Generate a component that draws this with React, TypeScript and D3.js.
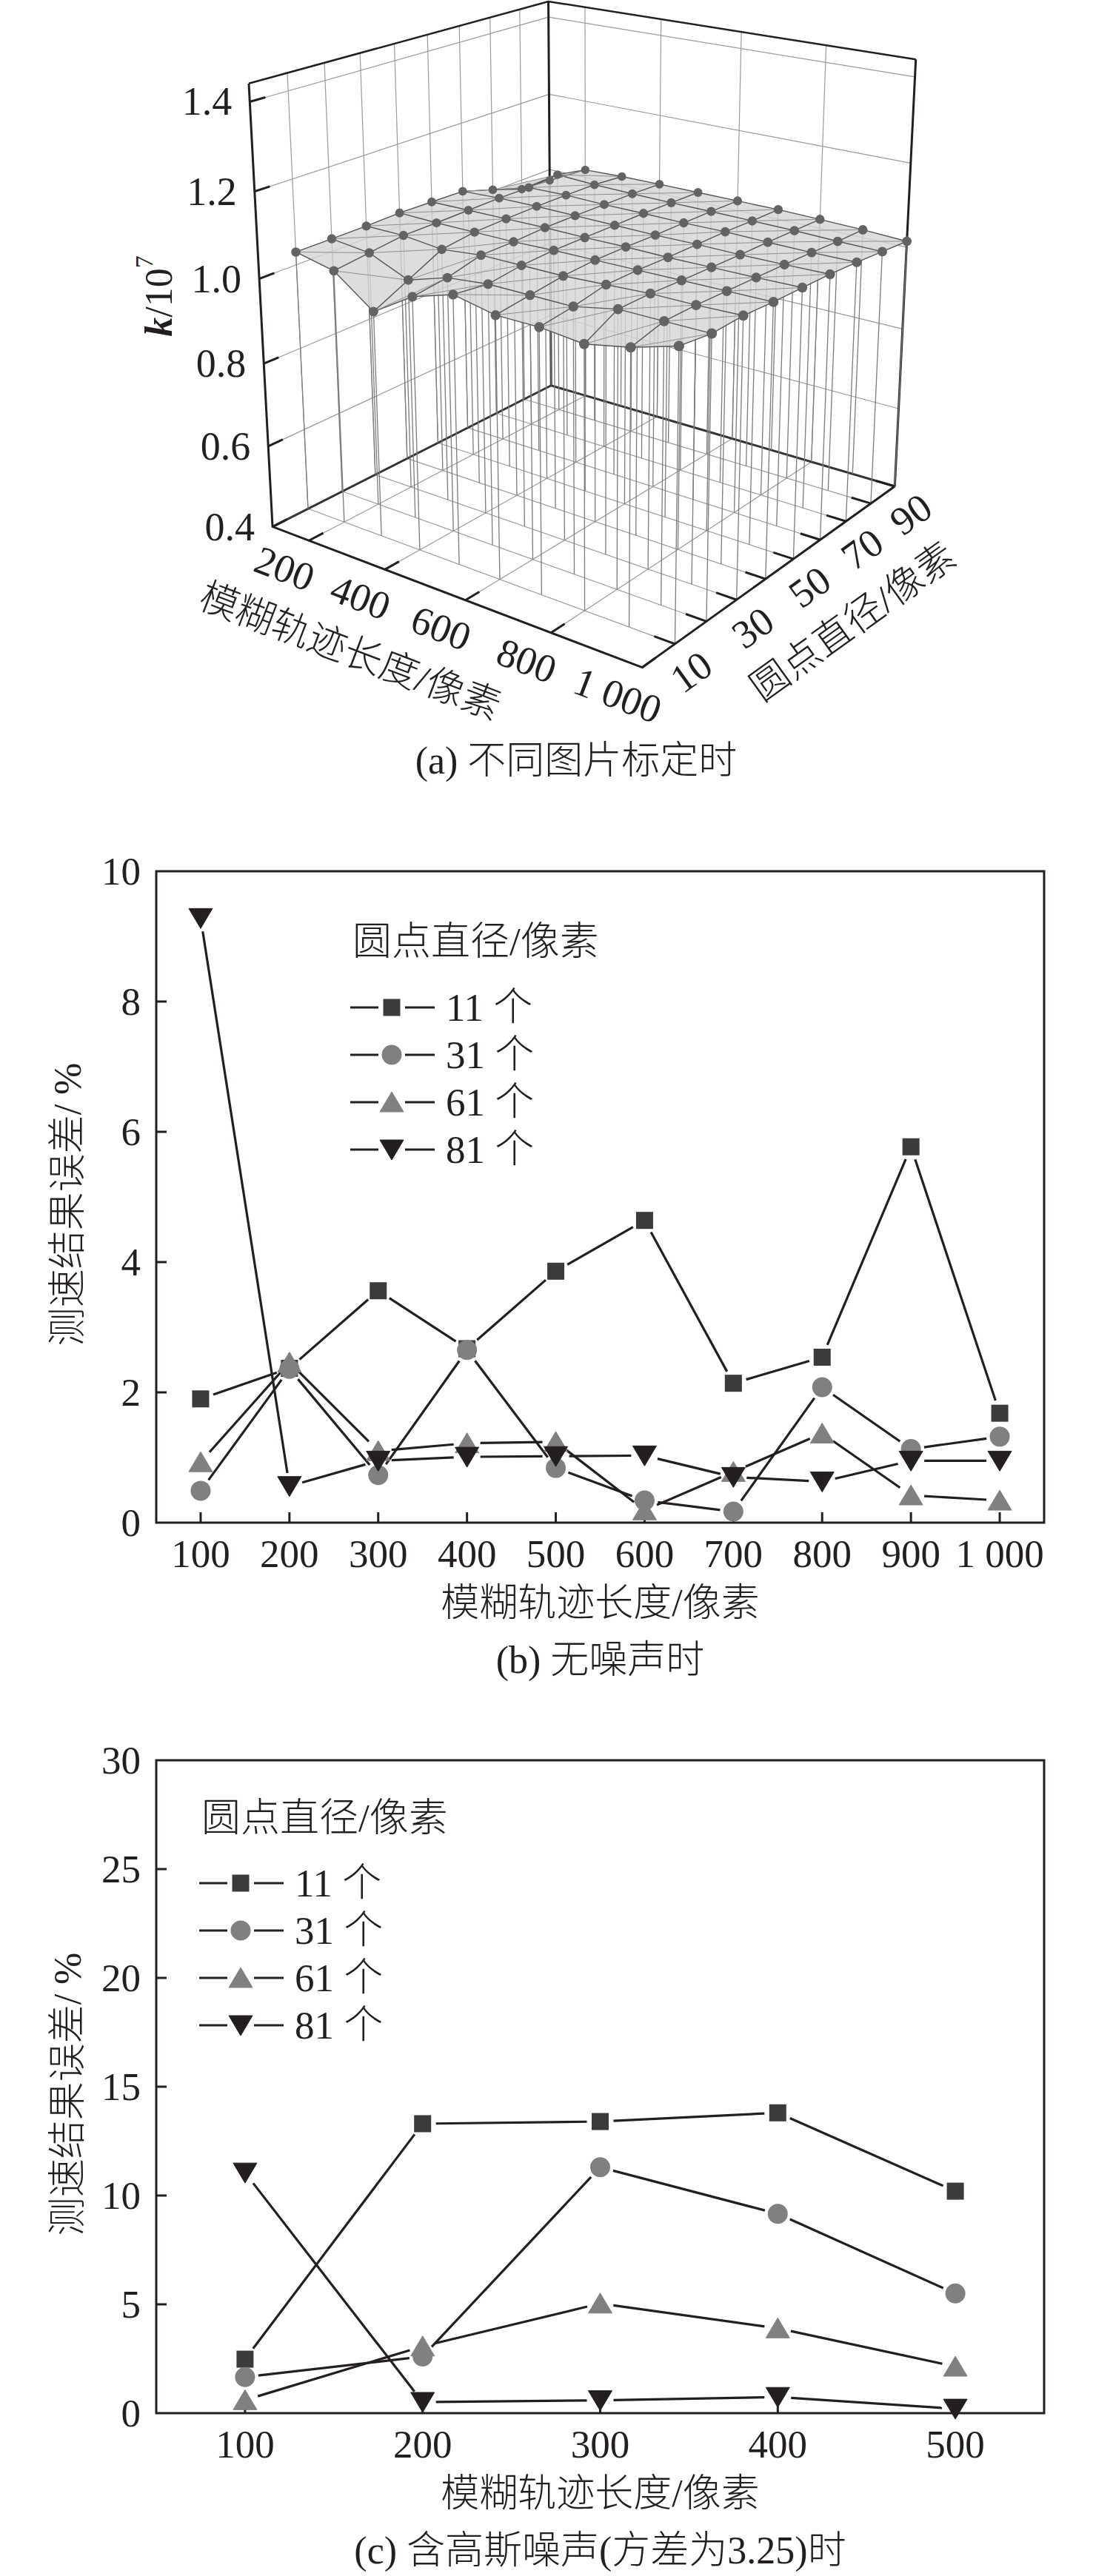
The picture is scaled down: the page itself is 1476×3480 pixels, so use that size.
import React from 'react';
import * as d3 from 'd3';

// ---------- data ----------
// (a) surface: k/10^7 for each dot diameter (rows) and blur length (columns)
const blurLengths = [100, 200, 300, 400, 500, 600, 700, 800, 900, 1000];
const dotDiameters = [10, 20, 30, 40, 50, 60, 70, 80, 90];
const kD10 = [1.03, 1.01, 0.94, 1.0, 1.03, 1.01, 1.01, 1.0, 1.02, 1.05];
const kD20 = [1.03, 1.02, 0.98, 1.01, 1.02, 1.02, 1.02, 1.04, 1.04, 1.04];
const kD30 = [1.03, 1.03, 1.02, 1.03, 1.03, 1.03, 1.035, 1.04, 1.04, 1.043];
const kD40 = [1.032, 1.03, 1.03, 1.03, 1.033, 1.034, 1.035, 1.036, 1.037, 1.038];
const kD50 = [1.03, 1.031, 1.032, 1.033, 1.032, 1.033, 1.032, 1.033, 1.034, 1.036];
const kD60 = [1.028, 1.032, 1.033, 1.032, 1.031, 1.03, 1.031, 1.03, 1.031, 1.033];
const kD70 = [1.003, 1.03, 1.032, 1.03, 1.03, 1.029, 1.03, 1.028, 1.027, 1.028];
const kD80 = [0.976, 1.035, 1.03, 1.028, 1.027, 1.027, 1.026, 1.025, 1.022, 1.021];
const kD90 = [0.971, 1.02, 1.023, 1.024, 1.024, 1.024, 1.024, 1.022, 1.019, 1.014];
const kRows = [kD10, kD20, kD30, kD40, kD50, kD60, kD70, kD80, kD90];

const kTicks = [0.4, 0.6, 0.8, 1.0, 1.2, 1.4];
const blurTicks = [200, 400, 600, 800, 1000];
const diamTicks = [10, 20, 30, 40, 50, 60, 70, 80, 90];
const diamLabels = [10, 30, 50, 70, 90];
const wallDiamGrid = [10, 20, 30, 40, 50, 60, 70, 80];
const wallBlurGrid = [200, 400, 600, 800];
const kGrid = [0.6, 0.8, 1.0, 1.2, 1.4];

// (b) no noise
const noNoiseX = [100, 200, 300, 400, 500, 600, 700, 800, 900, 1000];
const noNoise11 = [1.9, 2.37, 3.56, 2.67, 3.86, 4.64, 2.14, 2.54, 5.77, 1.68];
const noNoise31 = [0.49, 2.36, 0.73, 2.65, 0.84, 0.34, 0.17, 2.08, 1.13, 1.32];
const noNoise61 = [0.93, 2.46, 1.1, 1.22, 1.24, 0.19, 0.78, 1.37, 0.42, 0.34];
const noNoise81 = [9.28, 0.56, 0.95, 1.01, 1.02, 1.03, 0.7, 0.63, 0.95, 0.95];
const noNoiseYTicks = [0, 2, 4, 6, 8, 10];

// (c) gaussian noise
const gaussX = [100, 200, 300, 400, 500];
const gauss11 = [2.48, 13.3, 13.4, 13.8, 10.2];
const gauss31 = [1.66, 2.6, 11.3, 9.16, 5.5];
const gauss61 = [0.6, 3.07, 5.04, 3.9, 2.14];
const gauss81 = [11.05, 0.51, 0.59, 0.74, 0.2];
const gaussYTicks = [0, 5, 10, 15, 20, 25, 30];

const seriesNames = ['11 个', '31 个', '61 个', '81 个'];

// ---------- style ----------
const FONT = "'Liberation Serif', 'Times New Roman', 'Noto Sans CJK SC', serif";
const INK = '#231f20';
const markerFill = ['#3d3a3b', '#808080', '#808080', '#231f20'];
const markerShape = ['square', 'circle', 'up', 'down'];

type Shape = 'square' | 'circle' | 'up' | 'down';

function Marker({ x, y, shape, fill }: { x: number; y: number; shape: Shape; fill: string }) {
  if (shape === 'square') return <rect x={x - 11.5} y={y - 11.5} width={23} height={23} fill={fill} />;
  if (shape === 'circle') return <circle cx={x} cy={y} r={13.5} fill={fill} />;
  if (shape === 'up')
    return <path d={`M${x},${y - 14}L${x + 16},${y + 13}L${x - 16},${y + 13}Z`} fill={fill} strokeLinejoin="round" stroke={fill} strokeWidth={1} />;
  return <path d={`M${x},${y + 14}L${x + 16},${y - 13}L${x - 16},${y - 13}Z`} fill={fill} stroke={fill} strokeWidth={1} />;
}

// ---------- 3D projection (perspective camera fitted to the box corners) ----------
const boxCorners: [number, number, number, number, number][] = [
  [0, 0, 0, 370, 712],
  [1, 0, 0, 866, 902],
  [1, 1, 0, 1210, 656],
  [0, 1, 0, 742, 521],
  [0, 0, 1, 335, 112],
  [0, 1, 1, 742, 2],
  [1, 1, 1, 1236, 81],
];

function fitCamera(pts: [number, number, number, number, number][]) {
  const s = 1000;
  const rows: number[][] = [];
  const rhs: number[] = [];
  pts.forEach(([X, Y, Z, px, py]) => {
    const x = px / s, y = py / s;
    rows.push([X, Y, Z, 1, 0, 0, 0, 0, -x * X, -x * Y, -x * Z]); rhs.push(x);
    rows.push([0, 0, 0, 0, X, Y, Z, 1, -y * X, -y * Y, -y * Z]); rhs.push(y);
  });
  const n = 11;
  const M = d3.range(n).map(i => {
    const r = new Array(n + 1).fill(0);
    for (let j = 0; j < n; j++) r[j] = d3.sum(rows, row => row[i] * row[j]);
    r[n] = d3.sum(rows, (row, k) => row[i] * rhs[k]);
    return r;
  });
  for (let c = 0; c < n; c++) {
    let piv = c;
    for (let r = c + 1; r < n; r++) if (Math.abs(M[r][c]) > Math.abs(M[piv][c])) piv = r;
    [M[c], M[piv]] = [M[piv], M[c]];
    for (let r = 0; r < n; r++) {
      if (r === c) continue;
      const f = M[r][c] / M[c][c];
      for (let k = c; k <= n; k++) M[r][k] -= f * M[c][k];
    }
  }
  const p = M.map((r, i) => r[n] / r[i]);
  return (X: number, Y: number, Z: number): [number, number] => {
    const d = p[8] * X + p[9] * Y + p[10] * Z + 1;
    return [(s * (p[0] * X + p[1] * Y + p[2] * Z + p[3])) / d, (s * (p[4] * X + p[5] * Y + p[6] * Z + p[7])) / d];
  };
}

const cam = fitCamera(boxCorners);
const uScale = d3.scaleLinear().domain([100, 1000]).range([0, 1]);
const vScale = d3.scaleLinear().domain([0, 90]).range([0, 1]);
const wScale = d3.scaleLinear().domain([0.4, 1.44]).range([0, 1]);
const proj = (blur: number, diam: number, k: number) => cam(uScale(blur), vScale(diam), wScale(k));
const seg = (a: [number, number], b: [number, number]) => `M${a[0]},${a[1]}L${b[0]},${b[1]}`;

function SurfaceChart() {
  const bMin = blurLengths[0], bMax = blurLengths[blurLengths.length - 1];
  const dMin = 0, dMax = 90;
  const zMin = 0.4, zMax = 1.44;
  const A = proj(bMin, dMin, zMin), B = proj(bMax, dMin, zMin), C = proj(bMax, dMax, zMin), D = proj(bMin, dMax, zMin);
  const At = proj(bMin, dMin, zMax), Ct = proj(bMax, dMax, zMax), Dt = proj(bMin, dMax, zMax);
  const angAB = (Math.atan2(B[1] - A[1], B[0] - A[0]) * 180) / Math.PI;
  const angBC = (Math.atan2(C[1] - B[1], C[0] - B[0]) * 180) / Math.PI;
  const grid = '#9a9a9a';

  // surface triangles, far to near
  const tris: { pts: [number, number][]; key: number }[] = [];
  for (let i = 0; i < blurLengths.length - 1; i++) {
    for (let j = 0; j < dotDiameters.length - 1; j++) {
      const p = (ii: number, jj: number) => proj(blurLengths[ii], dotDiameters[jj], kRows[jj][ii]);
      const key = i - j;
      tris.push({ pts: [p(i, j), p(i + 1, j), p(i + 1, j + 1)], key: key + 0.5 });
      tris.push({ pts: [p(i, j), p(i + 1, j + 1), p(i, j + 1)], key: key - 0.5 });
    }
  }
  tris.sort((a, b) => a.key - b.key);
  const line = d3.line<[number, number]>();

  const pts3 = dotDiameters.flatMap((d, j) => blurLengths.map((b, i) => ({ b, d, k: kRows[j][i] })));
  // nearer points look a little bigger
  const dotR = (b: number, d: number) => 5.6 + 1.6 * (uScale(b) - vScale(d) + 1) / 2;

  return (
    <g>
      {/* back-left wall grid (blur = 100) */}
      {wallDiamGrid.map(d => (
        <path key={`wd${d}`} d={seg(proj(bMin, d, zMin), proj(bMin, d, zMax))} stroke={grid} strokeWidth={1.2} fill="none" />
      ))}
      {kGrid.map(k => (
        <path key={`wk${k}`} d={seg(proj(bMin, dMin, k), proj(bMin, dMax, k))} stroke={grid} strokeWidth={1.2} fill="none" />
      ))}
      {/* back-right wall grid (diameter = 90) */}
      {wallBlurGrid.map(b => (
        <path key={`wb${b}`} d={seg(proj(b, dMax, zMin), proj(b, dMax, zMax))} stroke={grid} strokeWidth={1.2} fill="none" />
      ))}
      {kGrid.map(k => (
        <path key={`wk2${k}`} d={seg(proj(bMin, dMax, k), proj(bMax, dMax, k))} stroke={grid} strokeWidth={1.2} fill="none" />
      ))}
      {/* floor grid */}
      {wallBlurGrid.map(b => (
        <path key={`fb${b}`} d={seg(proj(b, dMin, zMin), proj(b, dMax, zMin))} stroke={grid} strokeWidth={1.2} fill="none" />
      ))}
      {wallDiamGrid.map(d => (
        <path key={`fd${d}`} d={seg(proj(bMin, d, zMin), proj(bMax, d, zMin))} stroke={grid} strokeWidth={1.2} fill="none" />
      ))}
      {/* back edges of the box */}
      <path d={`M${A[0]},${A[1]}L${D[0]},${D[1]}L${C[0]},${C[1]}`} stroke="#333" strokeWidth={3} fill="none" />
      <path d={seg(D, Dt)} stroke={INK} strokeWidth={3} />
      <path d={seg(C, Ct)} stroke={INK} strokeWidth={3} />
      <path d={`M${At[0]},${At[1]}L${Dt[0]},${Dt[1]}L${Ct[0]},${Ct[1]}`} stroke={INK} strokeWidth={2.5} fill="none" />
      {/* drop lines */}
      {pts3.map((p, i) => (
        <path key={`dl${i}`} d={seg(proj(p.b, p.d, p.k), proj(p.b, p.d, zMin))} stroke="#7c7c7c" strokeWidth={1.3} />
      ))}
      {/* surface */}
      {tris.map((t, i) => (
        <path key={`t${i}`} d={line(t.pts) + 'Z'} fill="#d6d6d6" fillOpacity={0.82} stroke="#d6d6d6" strokeWidth={0.6} />
      ))}
      {/* mesh */}
      {dotDiameters.map((d, j) => (
        <path key={`mr${j}`} d={line(blurLengths.map((b, i) => proj(b, d, kRows[j][i]))) || ''} fill="none" stroke="#555" strokeWidth={1.4} />
      ))}
      {blurLengths.map((b, i) => (
        <path key={`mc${i}`} d={line(dotDiameters.map((d, j) => proj(b, d, kRows[j][i]))) || ''} fill="none" stroke="#555" strokeWidth={1.4} />
      ))}
      {blurLengths.slice(0, -1).map((b, i) =>
        dotDiameters.slice(0, -1).map((d, j) => (
          <path
            key={`md${i}-${j}`}
            d={seg(proj(b, d, kRows[j][i]), proj(blurLengths[i + 1], dotDiameters[j + 1], kRows[j + 1][i + 1]))}
            stroke="#8f8f8f"
            strokeWidth={1}
          />
        ))
      )}
      {pts3.map((p, i) => {
        const [x, y] = proj(p.b, p.d, p.k);
        return <circle key={`pt${i}`} cx={x} cy={y} r={dotR(p.b, p.d)} fill="#636363" />;
      })}
      {/* front axes */}
      <path d={`M${At[0]},${At[1]}L${A[0]},${A[1]}L${B[0]},${B[1]}L${C[0]},${C[1]}`} stroke={INK} strokeWidth={3} fill="none" strokeLinejoin="miter" />
      {kTicks.map(k => (
        <path key={`kt${k}`} d={seg(proj(bMin, dMin, k), proj(bMin, 4, k))} stroke={INK} strokeWidth={3} />
      ))}
      {blurTicks.map(b => (
        <path key={`bt${b}`} d={seg(proj(b, dMin, zMin), proj(b, 4, zMin))} stroke={INK} strokeWidth={3} />
      ))}
      {diamTicks.map(d => (
        <path key={`dt${d}`} d={seg(proj(bMax, d, zMin), proj(bMax - 45, d, zMin))} stroke={INK} strokeWidth={3} />
      ))}
      {/* tick labels */}
      {kTicks.map(k => {
        const [x, y] = proj(bMin, dMin, k);
        return (
          <text key={`kl${k}`} x={x - 24} y={y} textAnchor="end" dominantBaseline="central" fontSize={54} fontFamily={FONT} fill={INK}>
            {k.toFixed(1)}
          </text>
        );
      })}
      {blurTicks.map(b => {
        const [x, y] = proj(b, dMin, zMin);
        const lx = x - 33, ly = y + 38;
        return (
          <text key={`bl${b}`} x={lx} y={ly} transform={`rotate(${angAB},${lx},${ly})`} textAnchor="middle" dominantBaseline="central" fontSize={54} fontFamily={FONT} fill={INK}>
            {b === 1000 ? '1 000' : b}
          </text>
        );
      })}
      {diamLabels.map(d => {
        const [x, y] = proj(bMax, d, zMin);
        const lx = x + 22, ly = y + 38;
        return (
          <text key={`dlb${d}`} x={lx} y={ly} transform={`rotate(${angBC},${lx},${ly})`} textAnchor="middle" dominantBaseline="central" fontSize={54} fontFamily={FONT} fill={INK}>
            {d}
          </text>
        );
      })}
      {/* axis titles */}
      <text x={473} y={880} transform={`rotate(${angAB},473,880)`} textAnchor="middle" dominantBaseline="central" fontSize={52} fontFamily={FONT} fontWeight={300} fill={INK}>
        模糊轨迹长度/像素
      </text>
      <text x={1152} y={840} transform={`rotate(${angBC},1152,840)`} textAnchor="middle" dominantBaseline="central" fontSize={52} fontFamily={FONT} fontWeight={300} fill={INK}>
        圆点直径/像素
      </text>
      <text x={214} y={400} transform="rotate(-90,214,400)" textAnchor="middle" dominantBaseline="central" fontSize={52} fontFamily={FONT} fill={INK}>
        <tspan fontStyle="italic" fontWeight="bold">k</tspan>
        <tspan>/10</tspan>
        <tspan fontSize={34} dy={-20}>7</tspan>
      </text>
      <text x={778} y={1027} textAnchor="middle" dominantBaseline="central" fontSize={52} fontFamily={FONT} fontWeight={300} fill={INK}>
        (a) 不同图片标定时
      </text>
    </g>
  );
}

// ---------- 2D line charts ----------
interface LineChartProps {
  xs: number[];
  series: number[][];
  xDomain: [number, number];
  yDomain: [number, number];
  yTicks: number[];
  top: number;
  bottom: number;
  legendX: number;
  legendTitleY: number;
  legendFirstY: number;
  caption: string;
}

function LineChart({ xs, series, xDomain, yDomain, yTicks, top, bottom, legendX, legendTitleY, legendFirstY, caption }: LineChartProps) {
  const left = 211, right = 1410;
  const x = d3.scaleLinear().domain(xDomain).range([left, right]);
  const y = d3.scaleLinear().domain(yDomain).range([bottom, top]);
  const gap = 18;
  const midY = (top + bottom) / 2;
  return (
    <g>
      <rect x={left} y={top} width={right - left} height={bottom - top} fill="none" stroke={INK} strokeWidth={3} />
      {yTicks.map(t => (
        <g key={`yt${t}`}>
          {t !== yDomain[0] && t !== yDomain[1] && <path d={`M${left},${y(t)}h14`} stroke={INK} strokeWidth={3} />}
          <text x={left - 21} y={y(t)} textAnchor="end" dominantBaseline="central" fontSize={53} fontFamily={FONT} fill={INK}>
            {t}
          </text>
        </g>
      ))}
      {xs.map(t => (
        <g key={`xt${t}`}>
          <path d={`M${x(t)},${bottom}v-14`} stroke={INK} strokeWidth={3} />
          <text x={x(t)} y={bottom + 42} textAnchor="middle" dominantBaseline="central" fontSize={53} fontFamily={FONT} fill={INK}>
            {t === 1000 ? '1 000' : t}
          </text>
        </g>
      ))}
      {series.map((vals, si) => {
        const pts = xs.map((xv, i) => [x(xv), y(vals[i])] as [number, number]);
        return (
          <g key={`s${si}`}>
            {pts.slice(1).map((p, i) => {
              const a = pts[i];
              const dx = p[0] - a[0], dy = p[1] - a[1];
              const len = Math.hypot(dx, dy);
              if (len <= 2 * gap) return null;
              const ux = dx / len, uy = dy / len;
              return (
                <path key={`sg${i}`} d={`M${a[0] + ux * gap},${a[1] + uy * gap}L${p[0] - ux * gap},${p[1] - uy * gap}`} stroke={INK} strokeWidth={3.2} />
              );
            })}
          </g>
        );
      })}
      {series.map((vals, si) =>
        xs.map((xv, i) => <Marker key={`m${si}-${i}`} x={x(xv)} y={y(vals[i])} shape={markerShape[si] as Shape} fill={markerFill[si]} />)
      )}
      {/* legend */}
      <text x={legendX + 3} y={legendTitleY} dominantBaseline="central" fontSize={53} fontFamily={FONT} fontWeight={300} fill={INK}>
        圆点直径/像素
      </text>
      {seriesNames.map((name, si) => {
        const ly = legendFirstY + si * 64;
        return (
          <g key={`lg${si}`}>
            <path d={`M${legendX},${ly}h38M${legendX + 74},${ly}h40`} stroke={INK} strokeWidth={3} />
            <Marker x={legendX + 56} y={ly} shape={markerShape[si] as Shape} fill={markerFill[si]} />
            <text x={legendX + 129} y={ly} dominantBaseline="central" fontSize={53} fontFamily={FONT} fontWeight={300} fill={INK}>
              {name}
            </text>
          </g>
        );
      })}
      <text x={91} y={midY + 10} transform={`rotate(-90,91,${midY + 10})`} textAnchor="middle" dominantBaseline="central" fontSize={52} fontFamily={FONT} fontWeight={300} fill={INK}>
        测速结果误差/ %
      </text>
      <text x={(left + right) / 2} y={bottom + 108} textAnchor="middle" dominantBaseline="central" fontSize={52} fontFamily={FONT} fontWeight={300} fill={INK}>
        模糊轨迹长度/像素
      </text>
      <text x={(left + right) / 2} y={bottom + 185} textAnchor="middle" dominantBaseline="central" fontSize={52} fontFamily={FONT} fontWeight={300} fill={INK}>
        {caption}
      </text>
    </g>
  );
}

export default function App() {
  return (
    <svg
      width={1476}
      height={3480}
      viewBox="0 0 1476 3480"
      style={{ position: 'absolute', left: 0, top: 0, display: 'block', background: '#fff' }}
    >
      <rect width={1476} height={3480} fill="#fff" />
      <SurfaceChart />
      <LineChart
        xs={noNoiseX}
        series={[noNoise11, noNoise31, noNoise61, noNoise81]}
        xDomain={[50, 1050]}
        yDomain={[0, 10]}
        yTicks={noNoiseYTicks}
        top={1177}
        bottom={2057}
        legendX={473}
        legendTitleY={1272}
        legendFirstY={1361}
        caption="(b) 无噪声时"
      />
      <LineChart
        xs={gaussX}
        series={[gauss11, gauss31, gauss61, gauss81]}
        xDomain={[50, 550]}
        yDomain={[0, 30]}
        yTicks={gaussYTicks}
        top={2378}
        bottom={3260}
        legendX={269}
        legendTitleY={2456}
        legendFirstY={2544}
        caption="(c) 含高斯噪声(方差为3.25)时"
      />
    </svg>
  );
}
